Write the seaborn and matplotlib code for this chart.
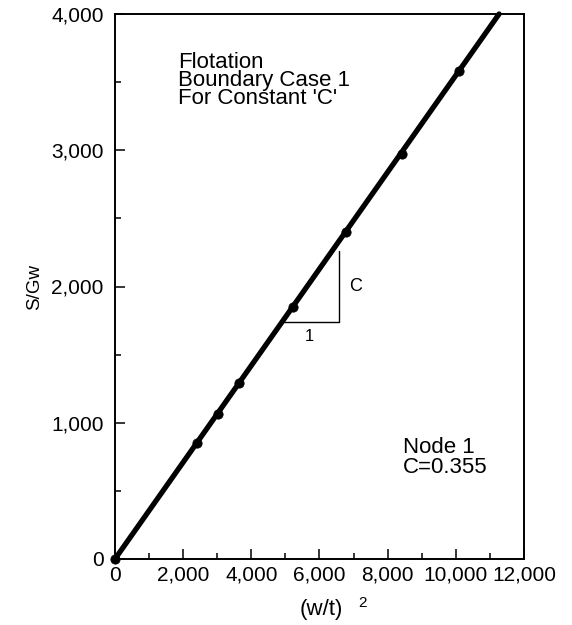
import matplotlib
matplotlib.use("Agg")
import matplotlib.pyplot as plt
import seaborn as sns
import pandas as pd
from matplotlib.ticker import MultipleLocator, FuncFormatter

# data
pts_x = [0, 2410, 3030, 3650, 5235, 6765, 8410, 10090]
pts_y = [0, 850, 1062, 1289, 1846, 2400, 2974, 3582]
line_x = [0, 11270]
line_y = [0, 4000]
tri_x = [4970, 6560, 6560]
tri_y = [1736, 1736, 2264]
x_ticks = [0, 2000, 4000, 6000, 8000, 10000, 12000]
y_ticks = [0, 1000, 2000, 3000, 4000]

sns.set_theme(style="ticks")
plt.rcParams['font.family'] = ['Liberation Sans', 'DejaVu Sans']

fig = plt.figure(figsize=(5.72, 6.25), dpi=100)
ax = fig.add_axes([0.201, 0.1056, 0.715, 0.872])

pts = pd.DataFrame({"x": pts_x, "y": pts_y})
ln = pd.DataFrame({"x": line_x, "y": line_y})
sns.lineplot(data=ln, x="x", y="y", ax=ax, color="black", lw=3.8, clip_on=False)
sns.scatterplot(data=pts, x="x", y="y", ax=ax, color="black", s=45, edgecolor="black", zorder=5, clip_on=False)
ax.plot(tri_x, tri_y, color="black", lw=1.0)

ax.set_xlim(0, 12000)
ax.set_ylim(0, 4000)
ax.set_xticks(x_ticks)
ax.set_yticks(y_ticks)
ax.xaxis.set_minor_locator(MultipleLocator(1000))
ax.yaxis.set_minor_locator(MultipleLocator(500))
fmt = FuncFormatter(lambda v, p: f"{int(v):,}")
ax.xaxis.set_major_formatter(fmt)
ax.yaxis.set_major_formatter(fmt)
ax.tick_params(axis="both", which="major", direction="in", length=7, width=1.1, labelsize=15, color="black", labelcolor="black")
ax.tick_params(axis="x", which="major", pad=5)
ax.tick_params(axis="y", which="major", pad=8)
ax.tick_params(axis="both", which="minor", direction="in", length=4, width=1.1, color="black")
for s in ax.spines.values():
    s.set_visible(True)
    s.set_color("black")
    s.set_linewidth(1.4)

ax.set_xlabel("(w/t)", fontsize=16, color="black", va="baseline")
ax.xaxis.set_label_coords(0.504, -0.1026)
ax.text(0.605, -0.088, "2", transform=ax.transAxes, fontsize=11, ha="center", va="baseline", color="black")
ax.set_ylabel("S/Gw", fontsize=13.5, color="black")
ax.yaxis.set_label_coords(-0.175, 0.5)

ax.text(1850, 3720, "Flotation\nBoundary Case 1\nFor Constant 'C'", fontsize=16, va="top", ha="left", linespacing=0.82, color="black")
ax.text(8440, 745, "Node 1\nC=0.355", fontsize=16, va="center", ha="left", linespacing=0.92, color="black")
ax.text(7060, 2000, "C", fontsize=13, va="center", ha="center", color="black")
ax.text(5700, 1630, "1", fontsize=12, va="center", ha="center", color="black")

fig.savefig("out.png", dpi=100, facecolor="white")
